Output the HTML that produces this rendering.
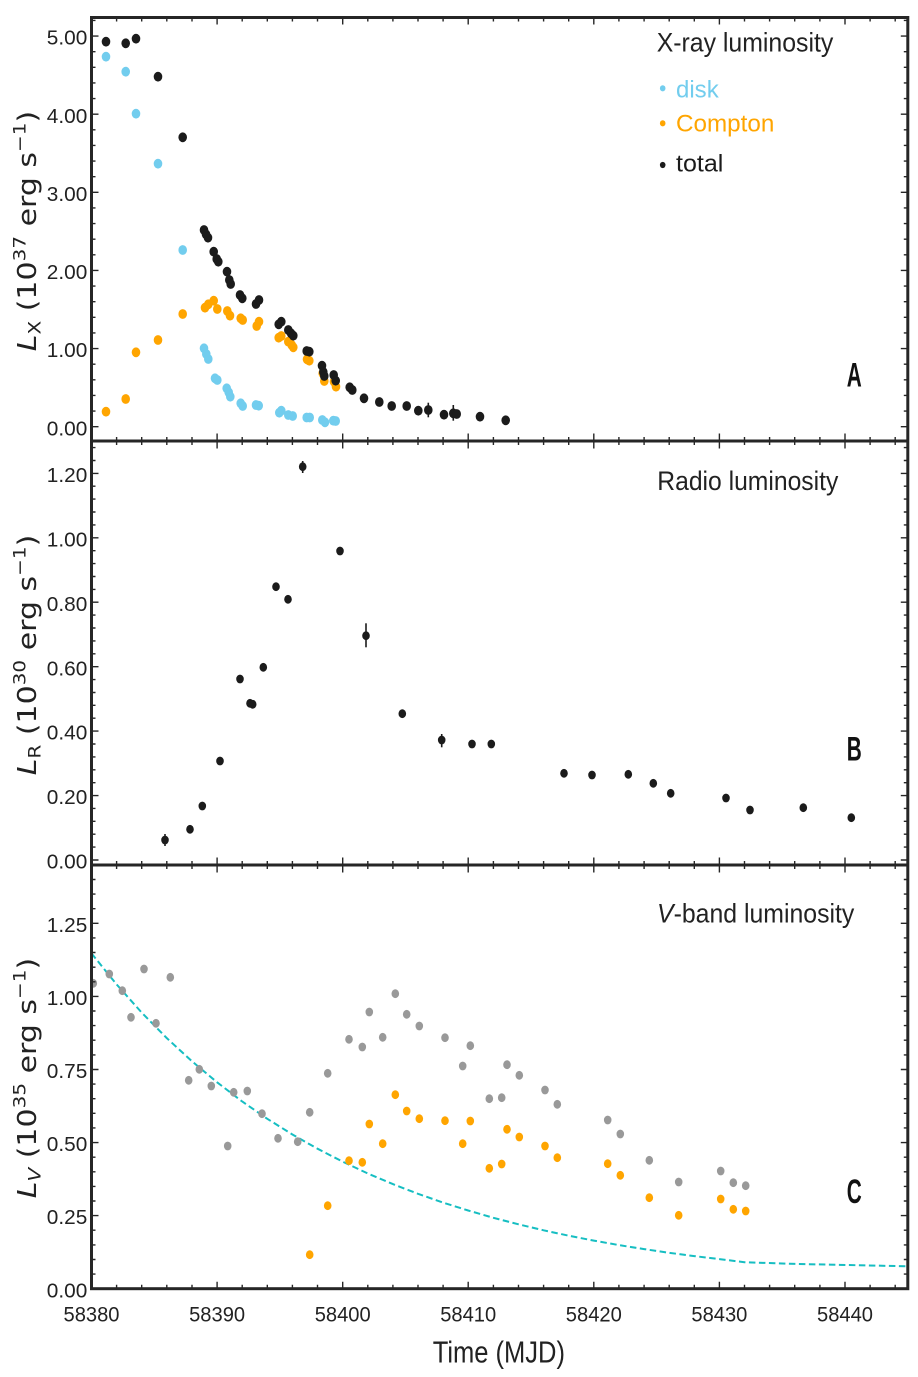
<!DOCTYPE html>
<html><head><meta charset="utf-8"><style>
html,body{margin:0;padding:0;background:#fff;}
svg{display:block;}
</style></head><body>
<svg width="918" height="1377" viewBox="0 0 918 1377" xmlns="http://www.w3.org/2000/svg">
<defs>
<clipPath id="cA"><rect x="91.5" y="17.5" width="816.3" height="423.5"/></clipPath>
<clipPath id="cB"><rect x="91.5" y="441" width="816.3" height="424"/></clipPath>
<clipPath id="cC"><rect x="91.5" y="865" width="816.3" height="423.7"/></clipPath>
</defs>
<rect width="918" height="1377" fill="#fff"/>

<!-- Panel A markers -->
<g clip-path="url(#cA)">
<g fill="#72cdee">
<ellipse cx="106" cy="56.7" rx="4.3" ry="4.9"/><ellipse cx="125.7" cy="71.7" rx="4.3" ry="4.9"/><ellipse cx="136" cy="113.7" rx="4.3" ry="4.9"/><ellipse cx="158" cy="163.7" rx="4.3" ry="4.9"/><ellipse cx="182.7" cy="250" rx="4.3" ry="4.9"/>
<ellipse cx="204" cy="348.3" rx="4.3" ry="4.9"/><ellipse cx="206.3" cy="354" rx="4.3" ry="4.9"/><ellipse cx="208.3" cy="359" rx="4.3" ry="4.9"/><ellipse cx="215" cy="378.3" rx="4.3" ry="4.9"/><ellipse cx="217.3" cy="380" rx="4.3" ry="4.9"/>
<ellipse cx="226.7" cy="388.3" rx="4.3" ry="4.9"/><ellipse cx="228.7" cy="392.3" rx="4.3" ry="4.9"/><ellipse cx="230.3" cy="396.7" rx="4.3" ry="4.9"/><ellipse cx="240.7" cy="403.3" rx="4.3" ry="4.9"/><ellipse cx="242.7" cy="406" rx="4.3" ry="4.9"/>
<ellipse cx="256" cy="405" rx="4.3" ry="4.9"/><ellipse cx="258.7" cy="405.7" rx="4.3" ry="4.9"/><ellipse cx="279.3" cy="412.7" rx="4.3" ry="4.9"/><ellipse cx="281.3" cy="410.7" rx="4.3" ry="4.9"/><ellipse cx="288.3" cy="415" rx="4.3" ry="4.9"/>
<ellipse cx="292.7" cy="416" rx="4.3" ry="4.9"/><ellipse cx="306.7" cy="417.5" rx="4.3" ry="4.9"/><ellipse cx="309.7" cy="417.5" rx="4.3" ry="4.9"/><ellipse cx="322.3" cy="420" rx="4.3" ry="4.9"/><ellipse cx="325" cy="422.3" rx="4.3" ry="4.9"/>
<ellipse cx="333.3" cy="420.7" rx="4.3" ry="4.9"/><ellipse cx="335.7" cy="421" rx="4.3" ry="4.9"/>
</g>
<g fill="#ffa500">
<ellipse cx="106" cy="411.7" rx="4.3" ry="4.9"/><ellipse cx="125.7" cy="399" rx="4.3" ry="4.9"/><ellipse cx="136" cy="352.3" rx="4.3" ry="4.9"/><ellipse cx="158" cy="340" rx="4.3" ry="4.9"/><ellipse cx="182.7" cy="314" rx="4.3" ry="4.9"/>
<ellipse cx="205" cy="307.7" rx="4.3" ry="4.9"/><ellipse cx="208.3" cy="304.3" rx="4.3" ry="4.9"/><ellipse cx="213.7" cy="300.7" rx="4.3" ry="4.9"/><ellipse cx="217.3" cy="309" rx="4.3" ry="4.9"/><ellipse cx="227.3" cy="311" rx="4.3" ry="4.9"/>
<ellipse cx="230" cy="315.7" rx="4.3" ry="4.9"/><ellipse cx="240.7" cy="318.3" rx="4.3" ry="4.9"/><ellipse cx="242.7" cy="320" rx="4.3" ry="4.9"/><ellipse cx="256.7" cy="326" rx="4.3" ry="4.9"/><ellipse cx="259" cy="321.7" rx="4.3" ry="4.9"/>
<ellipse cx="278.7" cy="337.7" rx="4.3" ry="4.9"/><ellipse cx="281.3" cy="336" rx="4.3" ry="4.9"/><ellipse cx="288.3" cy="341.7" rx="4.3" ry="4.9"/><ellipse cx="291.7" cy="345" rx="4.3" ry="4.9"/><ellipse cx="293.3" cy="347.3" rx="4.3" ry="4.9"/>
<ellipse cx="307" cy="359.3" rx="4.3" ry="4.9"/><ellipse cx="309.3" cy="360.7" rx="4.3" ry="4.9"/><ellipse cx="322.7" cy="373.3" rx="4.3" ry="4.9"/><ellipse cx="324.3" cy="381" rx="4.3" ry="4.9"/><ellipse cx="334" cy="381.7" rx="4.3" ry="4.9"/>
<ellipse cx="336" cy="386.7" rx="4.3" ry="4.9"/>
</g>
<g stroke="#1b1b1b" stroke-width="1.6">
<line x1="428.3" y1="402.7" x2="428.3" y2="417.3"/><line x1="453.3" y1="405" x2="453.3" y2="420.7"/>
</g>
<g fill="#1b1b1b">
<ellipse cx="106" cy="41.7" rx="4.3" ry="4.9"/><ellipse cx="125.7" cy="43.3" rx="4.3" ry="4.9"/><ellipse cx="136" cy="38.7" rx="4.3" ry="4.9"/><ellipse cx="158" cy="76.7" rx="4.3" ry="4.9"/><ellipse cx="182.7" cy="137.3" rx="4.3" ry="4.9"/>
<ellipse cx="204" cy="230" rx="4.3" ry="4.9"/><ellipse cx="206" cy="234.3" rx="4.3" ry="4.9"/><ellipse cx="208" cy="237.7" rx="4.3" ry="4.9"/><ellipse cx="213.7" cy="251.7" rx="4.3" ry="4.9"/><ellipse cx="216.7" cy="259" rx="4.3" ry="4.9"/>
<ellipse cx="218.3" cy="261.7" rx="4.3" ry="4.9"/><ellipse cx="227" cy="271.7" rx="4.3" ry="4.9"/><ellipse cx="229.3" cy="280" rx="4.3" ry="4.9"/><ellipse cx="230.7" cy="284" rx="4.3" ry="4.9"/><ellipse cx="240" cy="295" rx="4.3" ry="4.9"/>
<ellipse cx="242.3" cy="298.3" rx="4.3" ry="4.9"/><ellipse cx="256" cy="304" rx="4.3" ry="4.9"/><ellipse cx="259" cy="300" rx="4.3" ry="4.9"/><ellipse cx="278.7" cy="324.3" rx="4.3" ry="4.9"/><ellipse cx="281.3" cy="321.7" rx="4.3" ry="4.9"/>
<ellipse cx="288.3" cy="330" rx="4.3" ry="4.9"/><ellipse cx="291" cy="333.3" rx="4.3" ry="4.9"/><ellipse cx="293.3" cy="335.7" rx="4.3" ry="4.9"/><ellipse cx="306.7" cy="351" rx="4.3" ry="4.9"/><ellipse cx="309.3" cy="351.7" rx="4.3" ry="4.9"/>
<ellipse cx="322" cy="365.7" rx="4.3" ry="4.9"/><ellipse cx="323.3" cy="372" rx="4.3" ry="4.9"/><ellipse cx="324.3" cy="376" rx="4.3" ry="4.9"/><ellipse cx="333.7" cy="375" rx="4.3" ry="4.9"/><ellipse cx="335.7" cy="380.7" rx="4.3" ry="4.9"/>
<ellipse cx="349.7" cy="387.3" rx="4.3" ry="4.9"/><ellipse cx="352.3" cy="390" rx="4.3" ry="4.9"/><ellipse cx="364" cy="398.3" rx="4.3" ry="4.9"/><ellipse cx="379.3" cy="402" rx="4.3" ry="4.9"/><ellipse cx="391.7" cy="406" rx="4.3" ry="4.9"/>
<ellipse cx="406.7" cy="406" rx="4.3" ry="4.9"/><ellipse cx="418.3" cy="410.7" rx="4.3" ry="4.9"/><ellipse cx="428.3" cy="410" rx="4.3" ry="4.9"/><ellipse cx="444" cy="414.7" rx="4.3" ry="4.9"/><ellipse cx="453.3" cy="413.3" rx="4.3" ry="4.9"/>
<ellipse cx="456.7" cy="414" rx="4.3" ry="4.9"/><ellipse cx="480" cy="416.7" rx="4.3" ry="4.9"/><ellipse cx="505.7" cy="420.3" rx="4.3" ry="4.9"/>
</g>
</g>

<!-- Panel B markers -->
<g clip-path="url(#cB)">
<g stroke="#1b1b1b" stroke-width="1.6">
<line x1="165" y1="834" x2="165" y2="846"/><line x1="302.7" y1="461" x2="302.7" y2="473"/><line x1="366" y1="623.3" x2="366" y2="647.3"/><line x1="441.7" y1="734" x2="441.7" y2="747.3"/>
</g>
<g fill="#1b1b1b">
<ellipse cx="165" cy="840" rx="3.8" ry="4.4"/><ellipse cx="190" cy="829.3" rx="3.8" ry="4.4"/><ellipse cx="202.3" cy="806" rx="3.8" ry="4.4"/><ellipse cx="220" cy="761" rx="3.8" ry="4.4"/><ellipse cx="240" cy="679" rx="3.8" ry="4.4"/>
<ellipse cx="250" cy="703.3" rx="3.8" ry="4.4"/><ellipse cx="252.7" cy="704.3" rx="3.8" ry="4.4"/><ellipse cx="263.3" cy="667.3" rx="3.8" ry="4.4"/><ellipse cx="276" cy="586.7" rx="3.8" ry="4.4"/><ellipse cx="288" cy="599.3" rx="3.8" ry="4.4"/>
<ellipse cx="302.7" cy="466.7" rx="3.8" ry="4.4"/><ellipse cx="340" cy="551" rx="3.8" ry="4.4"/><ellipse cx="366" cy="635.7" rx="3.8" ry="4.4"/><ellipse cx="402.3" cy="713.7" rx="3.8" ry="4.4"/><ellipse cx="441.7" cy="740" rx="3.8" ry="4.4"/>
<ellipse cx="472" cy="744" rx="3.8" ry="4.4"/><ellipse cx="491.3" cy="744" rx="3.8" ry="4.4"/><ellipse cx="564" cy="773.3" rx="3.8" ry="4.4"/><ellipse cx="592" cy="775" rx="3.8" ry="4.4"/><ellipse cx="628.3" cy="774.3" rx="3.8" ry="4.4"/>
<ellipse cx="653.3" cy="783.3" rx="3.8" ry="4.4"/><ellipse cx="670.7" cy="793.3" rx="3.8" ry="4.4"/><ellipse cx="726" cy="798" rx="3.8" ry="4.4"/><ellipse cx="750" cy="810" rx="3.8" ry="4.4"/><ellipse cx="803.3" cy="807.7" rx="3.8" ry="4.4"/>
<ellipse cx="851.3" cy="817.7" rx="3.8" ry="4.4"/>
</g>
</g>

<!-- Panel C -->
<g clip-path="url(#cC)">
<polyline fill="none" stroke="#16bec2" stroke-width="2" stroke-dasharray="6.5 3.5" points="91.5,953.4 116.6,984.4 141.7,1012.6 166.8,1038.1 192,1061.3 217.1,1082.3 242.2,1101.5 267.3,1118.8 292.4,1134.5 317.5,1148.7 342.7,1161.7 367.8,1173.5 392.9,1184.1 418,1193.8 443.1,1202.6 468.2,1210.5 493.4,1217.8 518.5,1224.3 543.6,1230.3 568.7,1235.7 593.8,1240.6 618.9,1245.1 644.1,1249.1 669.2,1252.8 694.3,1256.1 719.4,1259.1 744.5,1262.2 790,1263.8 907.8,1266.3"/>
<g fill="#999999">
<ellipse cx="93.3" cy="983.3" rx="3.8" ry="4.4"/><ellipse cx="109.3" cy="974" rx="3.8" ry="4.4"/><ellipse cx="122.3" cy="990.7" rx="3.8" ry="4.4"/><ellipse cx="131" cy="1017.3" rx="3.8" ry="4.4"/><ellipse cx="144" cy="969" rx="3.8" ry="4.4"/>
<ellipse cx="156" cy="1023.3" rx="3.8" ry="4.4"/><ellipse cx="170.3" cy="977.3" rx="3.8" ry="4.4"/><ellipse cx="188.7" cy="1080.3" rx="3.8" ry="4.4"/><ellipse cx="199.3" cy="1069.3" rx="3.8" ry="4.4"/><ellipse cx="211.3" cy="1086" rx="3.8" ry="4.4"/>
<ellipse cx="227.7" cy="1146" rx="3.8" ry="4.4"/><ellipse cx="233.7" cy="1092.3" rx="3.8" ry="4.4"/><ellipse cx="247.3" cy="1091" rx="3.8" ry="4.4"/><ellipse cx="262" cy="1113.7" rx="3.8" ry="4.4"/><ellipse cx="278" cy="1138.3" rx="3.8" ry="4.4"/>
<ellipse cx="297.7" cy="1141.7" rx="3.8" ry="4.4"/><ellipse cx="309.7" cy="1112.3" rx="3.8" ry="4.4"/><ellipse cx="327.7" cy="1073.3" rx="3.8" ry="4.4"/><ellipse cx="349" cy="1039.3" rx="3.8" ry="4.4"/><ellipse cx="362.3" cy="1047" rx="3.8" ry="4.4"/>
<ellipse cx="369.3" cy="1012" rx="3.8" ry="4.4"/><ellipse cx="382.7" cy="1037.3" rx="3.8" ry="4.4"/><ellipse cx="395.3" cy="993.7" rx="3.8" ry="4.4"/><ellipse cx="406.7" cy="1014.3" rx="3.8" ry="4.4"/><ellipse cx="419.3" cy="1026" rx="3.8" ry="4.4"/>
<ellipse cx="445" cy="1037.7" rx="3.8" ry="4.4"/><ellipse cx="462.7" cy="1066" rx="3.8" ry="4.4"/><ellipse cx="470.3" cy="1045.7" rx="3.8" ry="4.4"/><ellipse cx="489.3" cy="1098.7" rx="3.8" ry="4.4"/><ellipse cx="501.7" cy="1097.7" rx="3.8" ry="4.4"/>
<ellipse cx="507" cy="1064.7" rx="3.8" ry="4.4"/><ellipse cx="519.3" cy="1075.3" rx="3.8" ry="4.4"/><ellipse cx="545" cy="1090" rx="3.8" ry="4.4"/><ellipse cx="557.3" cy="1104.3" rx="3.8" ry="4.4"/><ellipse cx="607.7" cy="1120" rx="3.8" ry="4.4"/>
<ellipse cx="620.3" cy="1134" rx="3.8" ry="4.4"/><ellipse cx="649.3" cy="1160.3" rx="3.8" ry="4.4"/><ellipse cx="678.7" cy="1182" rx="3.8" ry="4.4"/><ellipse cx="720.7" cy="1171" rx="3.8" ry="4.4"/><ellipse cx="733.3" cy="1182.7" rx="3.8" ry="4.4"/>
<ellipse cx="745.7" cy="1185.7" rx="3.8" ry="4.4"/>
</g>
<g fill="#ffa500">
<ellipse cx="309.7" cy="1254.7" rx="3.8" ry="4.4"/><ellipse cx="327.7" cy="1205.7" rx="3.8" ry="4.4"/><ellipse cx="349" cy="1160.7" rx="3.8" ry="4.4"/><ellipse cx="362.3" cy="1162.3" rx="3.8" ry="4.4"/><ellipse cx="369.3" cy="1124" rx="3.8" ry="4.4"/>
<ellipse cx="382.7" cy="1143.7" rx="3.8" ry="4.4"/><ellipse cx="395.3" cy="1094.7" rx="3.8" ry="4.4"/><ellipse cx="406.7" cy="1111" rx="3.8" ry="4.4"/><ellipse cx="419.3" cy="1118.7" rx="3.8" ry="4.4"/><ellipse cx="445" cy="1120.7" rx="3.8" ry="4.4"/>
<ellipse cx="462.7" cy="1143.7" rx="3.8" ry="4.4"/><ellipse cx="470.3" cy="1121" rx="3.8" ry="4.4"/><ellipse cx="489.3" cy="1168.3" rx="3.8" ry="4.4"/><ellipse cx="501.7" cy="1164" rx="3.8" ry="4.4"/><ellipse cx="507" cy="1129.3" rx="3.8" ry="4.4"/>
<ellipse cx="519.3" cy="1137" rx="3.8" ry="4.4"/><ellipse cx="545" cy="1146" rx="3.8" ry="4.4"/><ellipse cx="557.3" cy="1157.7" rx="3.8" ry="4.4"/><ellipse cx="607.7" cy="1163.7" rx="3.8" ry="4.4"/><ellipse cx="620.3" cy="1175.3" rx="3.8" ry="4.4"/>
<ellipse cx="649.3" cy="1197.7" rx="3.8" ry="4.4"/><ellipse cx="678.7" cy="1215.3" rx="3.8" ry="4.4"/><ellipse cx="720.7" cy="1199" rx="3.8" ry="4.4"/><ellipse cx="733.3" cy="1209.3" rx="3.8" ry="4.4"/><ellipse cx="745.7" cy="1211" rx="3.8" ry="4.4"/>
</g>
</g>

<!-- Ticks -->
<g stroke="#262626" stroke-width="1.4" fill="none">
<path d="M116.6 17.5V21.5M141.7 17.5V21.5M166.8 17.5V21.5M192 17.5V21.5M242.2 17.5V21.5M267.3 17.5V21.5M292.4 17.5V21.5M317.5 17.5V21.5M367.8 17.5V21.5M392.9 17.5V21.5M418 17.5V21.5M443.1 17.5V21.5M493.4 17.5V21.5M518.5 17.5V21.5M543.6 17.5V21.5M568.7 17.5V21.5M618.9 17.5V21.5M644.1 17.5V21.5M669.2 17.5V21.5M694.3 17.5V21.5M744.5 17.5V21.5M769.6 17.5V21.5M794.7 17.5V21.5M819.9 17.5V21.5M870.1 17.5V21.5M895.2 17.5V21.5"/>
<path d="M116.6 437V445M141.7 437V445M166.8 437V445M192 437V445M242.2 437V445M267.3 437V445M292.4 437V445M317.5 437V445M367.8 437V445M392.9 437V445M418 437V445M443.1 437V445M493.4 437V445M518.5 437V445M543.6 437V445M568.7 437V445M618.9 437V445M644.1 437V445M669.2 437V445M694.3 437V445M744.5 437V445M769.6 437V445M794.7 437V445M819.9 437V445M870.1 437V445M895.2 437V445"/>
<path d="M116.6 861V869M141.7 861V869M166.8 861V869M192 861V869M242.2 861V869M267.3 861V869M292.4 861V869M317.5 861V869M367.8 861V869M392.9 861V869M418 861V869M443.1 861V869M493.4 861V869M518.5 861V869M543.6 861V869M568.7 861V869M618.9 861V869M644.1 861V869M669.2 861V869M694.3 861V869M744.5 861V869M769.6 861V869M794.7 861V869M819.9 861V869M870.1 861V869M895.2 861V869"/>
<path d="M116.6 1288.7V1284.7M141.7 1288.7V1284.7M166.8 1288.7V1284.7M192 1288.7V1284.7M242.2 1288.7V1284.7M267.3 1288.7V1284.7M292.4 1288.7V1284.7M317.5 1288.7V1284.7M367.8 1288.7V1284.7M392.9 1288.7V1284.7M418 1288.7V1284.7M443.1 1288.7V1284.7M493.4 1288.7V1284.7M518.5 1288.7V1284.7M543.6 1288.7V1284.7M568.7 1288.7V1284.7M618.9 1288.7V1284.7M644.1 1288.7V1284.7M669.2 1288.7V1284.7M694.3 1288.7V1284.7M744.5 1288.7V1284.7M769.6 1288.7V1284.7M794.7 1288.7V1284.7M819.9 1288.7V1284.7M870.1 1288.7V1284.7M895.2 1288.7V1284.7"/>
<path d="M217.1 17.5V24.5M342.7 17.5V24.5M468.2 17.5V24.5M593.8 17.5V24.5M719.4 17.5V24.5M845 17.5V24.5"/>
<path d="M217.1 433.5V448.5M342.7 433.5V448.5M468.2 433.5V448.5M593.8 433.5V448.5M719.4 433.5V448.5M845 433.5V448.5"/>
<path d="M217.1 857.5V872.5M342.7 857.5V872.5M468.2 857.5V872.5M593.8 857.5V872.5M719.4 857.5V872.5M845 857.5V872.5"/>
<path d="M217.1 1288.7V1281.7M342.7 1288.7V1281.7M468.2 1288.7V1281.7M593.8 1288.7V1281.7M719.4 1288.7V1281.7M845 1288.7V1281.7"/>
<path d="M91.5 411.1h4M91.5 395.4h4M91.5 379.8h4M91.5 364.2h4M91.5 332.9h4M91.5 317.3h4M91.5 301.7h4M91.5 286.1h4M91.5 254.8h4M91.5 239.2h4M91.5 223.6h4M91.5 207.9h4M91.5 176.7h4M91.5 161.1h4M91.5 145.4h4M91.5 129.8h4M91.5 98.6h4M91.5 82.9h4M91.5 67.3h4M91.5 51.7h4M91.5 20.4h4"/>
<path d="M907.8 411.1h-4M907.8 395.4h-4M907.8 379.8h-4M907.8 364.2h-4M907.8 332.9h-4M907.8 317.3h-4M907.8 301.7h-4M907.8 286.1h-4M907.8 254.8h-4M907.8 239.2h-4M907.8 223.6h-4M907.8 207.9h-4M907.8 176.7h-4M907.8 161.1h-4M907.8 145.4h-4M907.8 129.8h-4M907.8 98.6h-4M907.8 82.9h-4M907.8 67.3h-4M907.8 51.7h-4M907.8 20.4h-4"/>
<path d="M91.5 426.7h7M91.5 348.6h7M91.5 270.4h7M91.5 192.3h7M91.5 114.2h7M91.5 36.1h7M907.8 426.7h-7M907.8 348.6h-7M907.8 270.4h-7M907.8 192.3h-7M907.8 114.2h-7M907.8 36.1h-7"/>
<path d="M91.5 847.1h4M91.5 834.2h4M91.5 821.3h4M91.5 808.4h4M91.5 782.7h4M91.5 769.8h4M91.5 756.9h4M91.5 744h4M91.5 718.2h4M91.5 705.3h4M91.5 692.5h4M91.5 679.6h4M91.5 653.8h4M91.5 640.9h4M91.5 628h4M91.5 615.1h4M91.5 589.4h4M91.5 576.5h4M91.5 563.6h4M91.5 550.7h4M91.5 524.9h4M91.5 512h4M91.5 499.1h4M91.5 486.2h4M91.5 460.5h4M91.5 447.6h4"/>
<path d="M907.8 847.1h-4M907.8 834.2h-4M907.8 821.3h-4M907.8 808.4h-4M907.8 782.7h-4M907.8 769.8h-4M907.8 756.9h-4M907.8 744h-4M907.8 718.2h-4M907.8 705.3h-4M907.8 692.5h-4M907.8 679.6h-4M907.8 653.8h-4M907.8 640.9h-4M907.8 628h-4M907.8 615.1h-4M907.8 589.4h-4M907.8 576.5h-4M907.8 563.6h-4M907.8 550.7h-4M907.8 524.9h-4M907.8 512h-4M907.8 499.1h-4M907.8 486.2h-4M907.8 460.5h-4M907.8 447.6h-4"/>
<path d="M91.5 860h7M91.5 795.6h7M91.5 731.1h7M91.5 666.7h7M91.5 602.2h7M91.5 537.8h7M91.5 473.4h7M907.8 860h-7M907.8 795.6h-7M907.8 731.1h-7M907.8 666.7h-7M907.8 602.2h-7M907.8 537.8h-7M907.8 473.4h-7"/>
<path d="M91.5 1274.1h4M91.5 1259.5h4M91.5 1244.9h4M91.5 1230.2h4M91.5 1201h4M91.5 1186.4h4M91.5 1171.8h4M91.5 1157.2h4M91.5 1127.9h4M91.5 1113.3h4M91.5 1098.7h4M91.5 1084.1h4M91.5 1054.9h4M91.5 1040.2h4M91.5 1025.6h4M91.5 1011h4M91.5 981.8h4M91.5 967.2h4M91.5 952.5h4M91.5 937.9h4M91.5 908.7h4M91.5 894.1h4M91.5 879.5h4"/>
<path d="M907.8 1274.1h-4M907.8 1259.5h-4M907.8 1244.9h-4M907.8 1230.2h-4M907.8 1201h-4M907.8 1186.4h-4M907.8 1171.8h-4M907.8 1157.2h-4M907.8 1127.9h-4M907.8 1113.3h-4M907.8 1098.7h-4M907.8 1084.1h-4M907.8 1054.9h-4M907.8 1040.2h-4M907.8 1025.6h-4M907.8 1011h-4M907.8 981.8h-4M907.8 967.2h-4M907.8 952.5h-4M907.8 937.9h-4M907.8 908.7h-4M907.8 894.1h-4M907.8 879.5h-4"/>
<path d="M91.5 1215.6h7M91.5 1142.6h7M91.5 1069.5h7M91.5 996.4h7M91.5 923.3h7M907.8 1215.6h-7M907.8 1142.6h-7M907.8 1069.5h-7M907.8 996.4h-7M907.8 923.3h-7"/>
</g>

<!-- Spines -->
<g stroke="#262626" stroke-width="3" fill="none">
<rect x="91.5" y="17.5" width="816.3" height="1271.2"/>
<line x1="91.5" y1="441" x2="907.8" y2="441"/>
<line x1="91.5" y1="865" x2="907.8" y2="865"/>
</g>

<!-- Tick labels -->
<g font-family="Liberation Sans, Arial, sans-serif" font-size="20.5" fill="#222" text-anchor="end">
<text x="87.3" y="435.3" textLength="40.5" lengthAdjust="spacingAndGlyphs">0.00</text>
<text x="87.3" y="357.2" textLength="40.5" lengthAdjust="spacingAndGlyphs">1.00</text>
<text x="87.3" y="279" textLength="40.5" lengthAdjust="spacingAndGlyphs">2.00</text>
<text x="87.3" y="200.9" textLength="40.5" lengthAdjust="spacingAndGlyphs">3.00</text>
<text x="87.3" y="122.8" textLength="40.5" lengthAdjust="spacingAndGlyphs">4.00</text>
<text x="87.3" y="44.7" textLength="40.5" lengthAdjust="spacingAndGlyphs">5.00</text>
<text x="87.3" y="868.6" textLength="40.5" lengthAdjust="spacingAndGlyphs">0.00</text>
<text x="87.3" y="804.2" textLength="40.5" lengthAdjust="spacingAndGlyphs">0.20</text>
<text x="87.3" y="739.7" textLength="40.5" lengthAdjust="spacingAndGlyphs">0.40</text>
<text x="87.3" y="675.3" textLength="40.5" lengthAdjust="spacingAndGlyphs">0.60</text>
<text x="87.3" y="610.8" textLength="40.5" lengthAdjust="spacingAndGlyphs">0.80</text>
<text x="87.3" y="546.4" textLength="40.5" lengthAdjust="spacingAndGlyphs">1.00</text>
<text x="87.3" y="482" textLength="40.5" lengthAdjust="spacingAndGlyphs">1.20</text>
<text x="87.3" y="1297.3" textLength="40.5" lengthAdjust="spacingAndGlyphs">0.00</text>
<text x="87.3" y="1224.2" textLength="40.5" lengthAdjust="spacingAndGlyphs">0.25</text>
<text x="87.3" y="1151.2" textLength="40.5" lengthAdjust="spacingAndGlyphs">0.50</text>
<text x="87.3" y="1078.1" textLength="40.5" lengthAdjust="spacingAndGlyphs">0.75</text>
<text x="87.3" y="1005" textLength="40.5" lengthAdjust="spacingAndGlyphs">1.00</text>
<text x="87.3" y="931.9" textLength="40.5" lengthAdjust="spacingAndGlyphs">1.25</text>
</g>
<g font-family="Liberation Sans, Arial, sans-serif" font-size="21" fill="#222" text-anchor="middle">
<text x="91.5" y="1321.7" textLength="56" lengthAdjust="spacingAndGlyphs">58380</text>
<text x="217.1" y="1321.7" textLength="56" lengthAdjust="spacingAndGlyphs">58390</text>
<text x="342.7" y="1321.7" textLength="56" lengthAdjust="spacingAndGlyphs">58400</text>
<text x="468.2" y="1321.7" textLength="56" lengthAdjust="spacingAndGlyphs">58410</text>
<text x="593.8" y="1321.7" textLength="56" lengthAdjust="spacingAndGlyphs">58420</text>
<text x="719.4" y="1321.7" textLength="56" lengthAdjust="spacingAndGlyphs">58430</text>
<text x="845" y="1321.7" textLength="56" lengthAdjust="spacingAndGlyphs">58440</text>
</g>
<text x="432.7" y="1362.7" font-family="Liberation Sans, Arial, sans-serif" font-size="31" fill="#222" textLength="132.3" lengthAdjust="spacingAndGlyphs">Time (MJD)</text>

<!-- Y axis labels -->
<g font-family="DejaVu Sans, Liberation Sans, sans-serif" font-size="30" fill="#222" text-anchor="middle">
<text transform="translate(36,231) scale(0.86,1) rotate(-90)"><tspan font-style="italic">L</tspan><tspan font-size="20" dy="5">X</tspan><tspan dy="-5"> (10</tspan><tspan font-size="20" dy="-12">37</tspan><tspan dy="12"> erg s</tspan><tspan font-size="20" dy="-12">−1</tspan><tspan dy="12">)</tspan></text>
<text transform="translate(36,655) scale(0.86,1) rotate(-90)"><tspan font-style="italic">L</tspan><tspan font-size="20" dy="5">R</tspan><tspan dy="-5"> (10</tspan><tspan font-size="20" dy="-12">30</tspan><tspan dy="12"> erg s</tspan><tspan font-size="20" dy="-12">−1</tspan><tspan dy="12">)</tspan></text>
<text transform="translate(36,1078) scale(0.86,1) rotate(-90)"><tspan font-style="italic">L</tspan><tspan font-size="20" font-style="italic" dy="5">V</tspan><tspan dy="-5"> (10</tspan><tspan font-size="20" dy="-12">35</tspan><tspan dy="12"> erg s</tspan><tspan font-size="20" dy="-12">−1</tspan><tspan dy="12">)</tspan></text>
</g>

<!-- Panel titles and legend -->
<g font-family="Liberation Sans, Arial, sans-serif" fill="#222">
<text x="656.7" y="51.7" font-size="26.5" textLength="176.6" lengthAdjust="spacingAndGlyphs">X-ray luminosity</text>
<text x="657.3" y="490" font-size="26.5" textLength="181" lengthAdjust="spacingAndGlyphs">Radio luminosity</text>
<text x="657" y="922.7" font-size="26.5" textLength="197.3" lengthAdjust="spacingAndGlyphs"><tspan font-style="italic">V</tspan>-band luminosity</text>
<text x="676" y="97.7" font-size="24.5" fill="#72cdee" textLength="42.7" lengthAdjust="spacingAndGlyphs">disk</text>
<text x="676" y="131.7" font-size="24.5" fill="#ffa500" textLength="98.3" lengthAdjust="spacingAndGlyphs">Compton</text>
<text x="676" y="171.7" font-size="24.5" fill="#1b1b1b" textLength="47.3" lengthAdjust="spacingAndGlyphs">total</text>
<text x="846.7" y="386.7" font-size="34" font-weight="bold" fill="#111" textLength="15" lengthAdjust="spacingAndGlyphs">A</text>
<text x="846.7" y="760.7" font-size="34" font-weight="bold" fill="#111" textLength="15" lengthAdjust="spacingAndGlyphs">B</text>
<text x="846.7" y="1202.8" font-size="34" font-weight="bold" fill="#111" textLength="15" lengthAdjust="spacingAndGlyphs">C</text>
</g>
<ellipse cx="662.7" cy="88.3" rx="2.8" ry="3.1" fill="#72cdee"/>
<ellipse cx="662.7" cy="123.3" rx="2.8" ry="3.1" fill="#ffa500"/>
<ellipse cx="662.7" cy="165" rx="2.8" ry="3.1" fill="#1b1b1b"/>
</svg>
</body></html>
